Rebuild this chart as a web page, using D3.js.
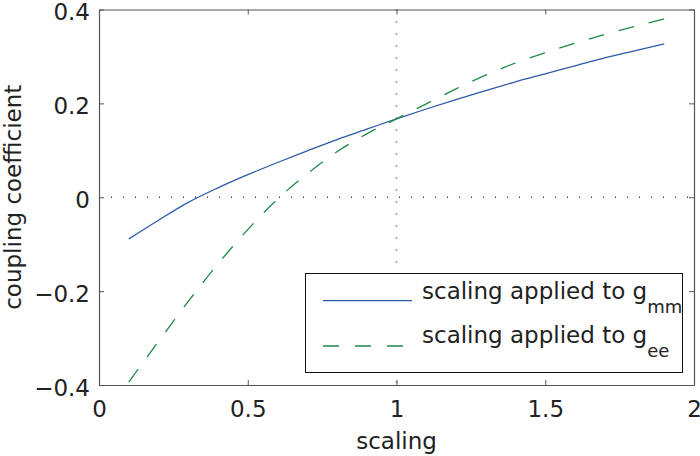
<!DOCTYPE html>
<html>
<head>
<meta charset="utf-8">
<script src="https://cdn.jsdelivr.net/npm/d3@7"></script>
<style>
  body { margin: 0; background: #fff; }
  text { font-family: "DejaVu Sans", sans-serif; fill: #222; }
</style>
</head>
<body>
<div id="chart"></div>
<script>
// scaling values (x)
const scaling = [0.1, 0.2, 0.3, 0.4, 0.5, 0.6, 0.7, 0.8, 0.9, 1.0,
                 1.1, 1.2, 1.3, 1.4, 1.5, 1.6, 1.7, 1.8, 1.9];
// coupling coefficient, scaling applied to g_mm
const gmmValues = [-0.089, -0.049, -0.011, 0.020, 0.048, 0.074, 0.099, 0.123, 0.145, 0.167,
                   0.188, 0.208, 0.227, 0.246, 0.263, 0.280, 0.297, 0.312, 0.327];
// coupling coefficient, scaling applied to g_ee
const geeValues = [-0.394, -0.307, -0.222, -0.142, -0.069, -0.004, 0.050, 0.097, 0.135, 0.167,
                   0.199, 0.231, 0.260, 0.286, 0.308, 0.328, 0.347, 0.364, 0.380];
const xTicks = [0, 0.5, 1, 1.5, 2];
const yTicks = [-0.4, -0.2, 0, 0.2, 0.4];

function drawChart() {
    const margin = { top: 9.5, right: 6, bottom: 71, left: 99 },
        width = 700 - margin.left - margin.right,
        height = 456 - margin.top - margin.bottom;

    const svg = d3.select("#chart")
        .append("svg")
        .attr("width", 700)
        .attr("height", 456)
        .append("g")
        .attr("transform", `translate(${margin.left},${margin.top})`);

    const x = d3.scaleLinear().domain([0, 2]).range([0, width]);
    const y = d3.scaleLinear().domain([-0.4, 0.4]).range([height, 0]);

    // dotted reference lines at x = 1 and y = 0
    svg.append("line")
        .attr("x1", x(1)).attr("x2", x(1))
        .attr("y1", 0).attr("y2", height)
        .attr("stroke", "#444")
        .attr("stroke-width", 1.5)
        .attr("stroke-dasharray", "1,11");

    svg.append("line")
        .attr("x1", 0).attr("x2", width)
        .attr("y1", y(0)).attr("y2", y(0))
        .attr("stroke", "#444")
        .attr("stroke-width", 1.5)
        .attr("stroke-dasharray", "1,11");

    const gmm = scaling.map((s, i) => ({ x: s, y: gmmValues[i] }));
    const gee = scaling.map((s, i) => ({ x: s, y: geeValues[i] }));

    const line = d3.line()
        .x(d => x(d.x))
        .y(d => y(d.y))
        .curve(d3.curveMonotoneX);

    svg.append("path")
        .datum(gmm)
        .attr("fill", "none")
        .attr("stroke", "#2b5aa8")
        .attr("stroke-width", 1.3)
        .attr("d", line);

    svg.append("path")
        .datum(gee)
        .attr("fill", "none")
        .attr("stroke", "#1f8a48")
        .attr("stroke-width", 1.3)
        .attr("stroke-dasharray", "16,15")
        .attr("d", line);

    // axes on all four sides, ticks pointing inward
    const axisStyle = g => {
        g.select(".domain").attr("stroke", "#555").attr("stroke-width", 1.2);
        g.selectAll(".tick line").attr("stroke", "#555");
        g.selectAll(".tick text").style("font-size", "23px").attr("fill", "#222");
    };

    svg.append("g")
        .attr("transform", `translate(0,${height})`)
        .call(d3.axisBottom(x).tickValues(xTicks).tickFormat(d3.format("")).tickSize(-5).tickSizeOuter(0).tickPadding(16))
        .call(axisStyle);

    svg.append("g")
        .call(d3.axisTop(x).tickValues(xTicks).tickFormat("").tickSize(-5).tickSizeOuter(0))
        .call(axisStyle);

    svg.append("g")
        .call(d3.axisLeft(y).tickValues(yTicks).tickFormat(d => d === 0 ? "0" : d3.format(".1f")(d).replace("-", "\u2212")).tickSize(-5).tickSizeOuter(0).tickPadding(9))
        .call(axisStyle)
        .selectAll(".tick text").attr("dy", "0.45em");

    svg.append("g")
        .attr("transform", `translate(${width},0)`)
        .call(d3.axisRight(y).tickValues(yTicks).tickFormat("").tickSize(-5).tickSizeOuter(0))
        .call(axisStyle);

    // axis labels
    svg.append("text")
        .attr("x", width / 2)
        .attr("y", 449 - margin.top)
        .attr("text-anchor", "middle")
        .style("font-size", "23px")
        .text("scaling");

    svg.append("text")
        .attr("transform", `translate(${21 - margin.left},${height / 2}) rotate(-90)`)
        .attr("text-anchor", "middle")
        .style("font-size", "23px")
        .text("coupling coefficient");

    // legend
    const legend = svg.append("g")
        .attr("transform", `translate(${305 - margin.left},${273 - margin.top})`);

    legend.append("rect")
        .attr("x", 0.5).attr("y", 0.5)
        .attr("width", 377).attr("height", 99)
        .attr("fill", "#fff")
        .attr("stroke", "#111")
        .attr("stroke-width", 1);

    const items = [
        { label: "scaling applied to g", sub: "mm", color: "#2b5aa8", dash: null, ly: 27.7, ty: 26 },
        { label: "scaling applied to g", sub: "ee", color: "#1f8a48", dash: "16,16", ly: 73, ty: 70.3 }
    ];

    items.forEach(d => {
        legend.append("line")
            .attr("x1", 18).attr("x2", 107)
            .attr("y1", d.ly).attr("y2", d.ly)
            .attr("stroke", d.color)
            .attr("stroke-width", 1.3)
            .attr("stroke-dasharray", d.dash);

        const t = legend.append("text")
            .attr("x", 117)
            .attr("y", d.ty)
            .style("font-size", "23px");
        t.append("tspan").text(d.label);
        t.append("tspan")
            .attr("dy", 13.5)
            .style("font-size", "18px")
            .text(d.sub);
    });
}
drawChart();
</script>
</body>
</html>
